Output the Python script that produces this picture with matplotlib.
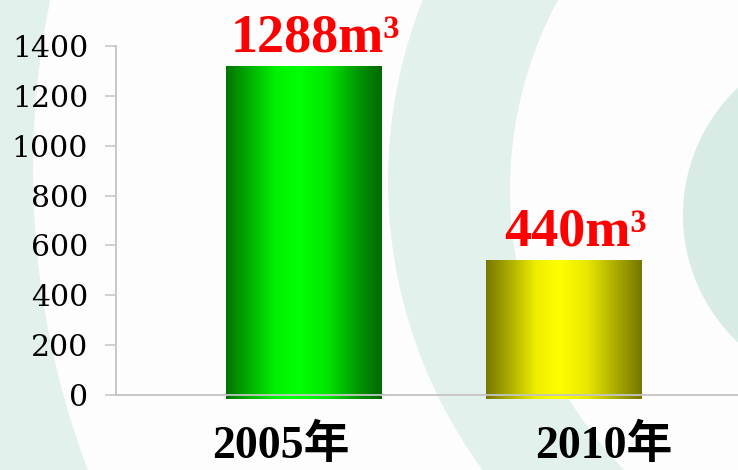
import numpy as np
import matplotlib
matplotlib.use("Agg")
import matplotlib.pyplot as plt
from matplotlib.patches import Circle, Rectangle
from matplotlib.colors import LinearSegmentedColormap

# ---- data ----
categories = ["2005年", "2010年"]
values = [1320, 540]            # bar heights as drawn
value_labels = ["1288m³", "440m³"]
yticks = [0, 200, 400, 600, 800, 1000, 1200, 1400]

# ---- style ----
W, H = 738, 470
mint = "#e3f1ec"
mint2 = "#d8ebe4"
white = "#fdfdfd"
grad_colors = [
    ["#007400", "#00b000", "#00f200", "#00ff00", "#00e600", "#009600", "#006800"],
    ["#787800", "#acac00", "#eeee00", "#ffff00", "#e8e800", "#a6a600", "#767600"],
]
grad_stops = [0.0, 0.15, 0.32, 0.47, 0.65, 0.85, 1.0]
cat_dx_px = [-23, 40]

fig = plt.figure(figsize=(W / 100, H / 100), dpi=100, facecolor=white)

# decorative background
bg = fig.add_axes([0, 0, 1, 1], zorder=0)
bg.set_xlim(0, W)
bg.set_ylim(H, 0)
bg.axis("off")
bg.add_patch(Rectangle((0, 0), W, H, color=mint, lw=0))
bg.add_patch(Circle((880, 170), 847, color=white, lw=0))
bg.add_patch(Circle((877, 181), 489, color=mint, lw=0))
bg.add_patch(Circle((910, 190), 400, color=white, lw=0))
bg.add_patch(Circle((858, 215), 175, color=mint2, lw=0))

# main axes
left_px, right_px, top_px, bot_px = 116, 738, 46, 399
ax = fig.add_axes([left_px / W, (H - bot_px) / H, (right_px - left_px) / W,
                   (bot_px - top_px) / H], zorder=1)
ax.patch.set_alpha(0)

ymin = -16
xlo, xhi = -188 / 260, 1 + 174 / 260
x = np.arange(len(categories))
bars = ax.bar(x, np.array(values) - ymin, bottom=ymin, width=0.6,
              color="none", edgecolor="none", zorder=2)

grad = np.linspace(0, 1, 256).reshape(1, -1)
for b, cols in zip(bars, grad_colors):
    cmap = LinearSegmentedColormap.from_list("g", list(zip(grad_stops, cols)))
    x0, y0 = b.get_x(), b.get_y()
    im = ax.imshow(grad, cmap=cmap, aspect="auto", interpolation="bilinear",
                   extent=[x0, x0 + b.get_width(), y0, y0 + b.get_height()],
                   zorder=2)
    im.set_clip_path(b)

ax.set_xlim(xlo, xhi)
ax.set_ylim(ymin, 1400)

# spines
for s in ["top", "right"]:
    ax.spines[s].set_visible(False)
ax.spines["left"].set_bounds(0, 1400)
ax.spines["bottom"].set_position(("data", 0))
for s in ["left", "bottom"]:
    ax.spines[s].set_color("#c4c4c4")
    ax.spines[s].set_linewidth(1.3)
    ax.spines[s].set_zorder(3)

ax.set_yticks(yticks)
ax.set_yticklabels([str(t) for t in yticks])
ax.tick_params(axis="y", length=8, width=1.1, color="#c4c4c4", pad=12,
               labelsize=21.5, labelcolor="black")
for lab in ax.get_yticklabels():
    lab.set_fontfamily("DejaVu Serif")
ax.set_xticks([])

# value labels
for xi, v, lab in zip(x, values, value_labels):
    ax.annotate(lab, (xi, v), xytext=(8.5, 10.5), textcoords="offset points",
                ha="center", va="baseline", color="#ff0000", fontsize=39,
                fontweight="bold", family="Liberation Serif", zorder=4,
                annotation_clip=False)

# category labels
for xi, cat, dx in zip(x, categories, cat_dx_px):
    ax.annotate(cat, (xi, 0), xytext=(dx * 0.72, -63 * 0.72),
                textcoords="offset points", ha="center", va="baseline",
                color="black", fontsize=33, fontweight="bold",
                family=["Liberation Serif", "Noto Sans CJK SC"],
                annotation_clip=False)

fig.savefig("out.png", dpi=100, facecolor=white)
